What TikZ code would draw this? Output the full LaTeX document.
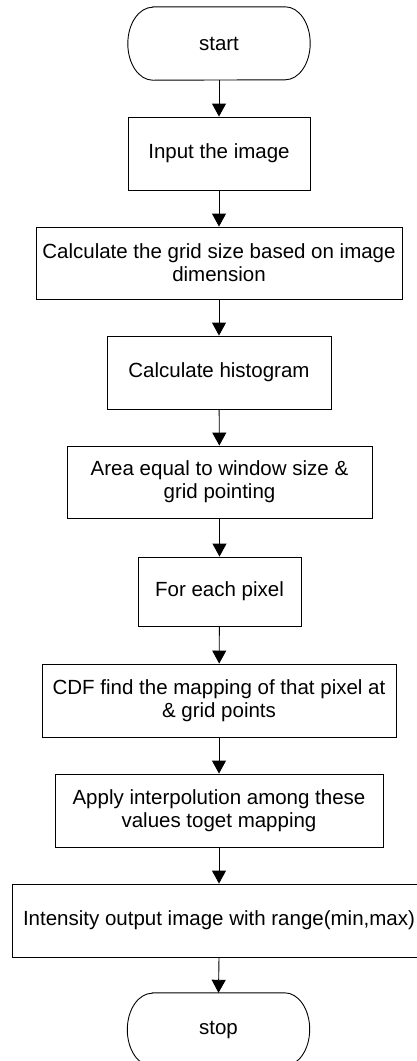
\documentclass[tikz,border=0pt]{standalone}
\usepackage{fontspec}
\setmainfont{Liberation Sans}
\usetikzlibrary{arrows.meta}
\begin{document}
\begin{tikzpicture}[x=1pt,y=1pt,
  box/.style={draw, line width=0.9pt, inner sep=0pt, align=center, font=\fontsize{20.5}{23}\selectfont},
  term/.style={inner sep=0pt, align=center, font=\fontsize{20.5}{23}\selectfont, minimum width=182pt, minimum height=73pt},
  arr/.style={line width=0.9pt, -{Triangle[length=13pt,width=14pt]}}]
\useasboundingbox (0,0) rectangle (417,-1061);
\node[term] (start) at (219,-43.5) {start};
\draw[line width=0.9pt] ([xshift=25pt]start.north west) -- ([xshift=-25pt]start.north east)
  arc[start angle=90,end angle=-90,x radius=25pt,y radius=36.5pt]
  -- ([xshift=25pt]start.south west)
  arc[start angle=270,end angle=90,x radius=25pt,y radius=36.5pt] -- cycle;
\node[box, minimum width=182pt, minimum height=73pt] (b1) at (219,-153.5) {Input the image};
\node[box, minimum width=366pt, minimum height=72pt] (b2) at (219,-263) {Calculate the grid size based on image\\dimension};
\node[box, minimum width=224pt, minimum height=73pt] (b3) at (219,-372.5) {Calculate histogram};
\node[box, minimum width=305pt, minimum height=72pt] (b4) at (219.5,-482) {Area equal to window size \&\\grid pointing};
\node[box, minimum width=163pt, minimum height=69pt] (b5) at (219.5,-591.5) {For each pixel};
\node[box, minimum width=354pt, minimum height=73pt] (b6) at (219,-700.5) {CDF find the mapping of that pixel at\\\& grid points};
\node[box, minimum width=328pt, minimum height=73pt] (b7) at (219,-810.5) {Apply interpolution among these\\values toget mapping};
\node[box, minimum width=414pt, minimum height=73pt] (b8) at (219,-920.5) {Intensity output image with range(min,max)};
\node[term] (stop) at (218.5,-1029.5) {stop};
\draw[line width=0.9pt] ([xshift=25pt]stop.north west) -- ([xshift=-25pt]stop.north east)
  arc[start angle=90,end angle=-90,x radius=25pt,y radius=36.5pt]
  -- ([xshift=25pt]stop.south west)
  arc[start angle=270,end angle=90,x radius=25pt,y radius=36.5pt] -- cycle;
\draw[arr] (start.south) -- (b1.north);
\draw[arr] (b1) -- (b2);
\draw[arr] (b2) -- (b3);
\draw[arr] (b3) -- (b4);
\draw[arr] (b4) -- (b5);
\draw[arr] (b5) -- (b6);
\draw[arr] (b6) -- (b7);
\draw[arr] (b7) -- (b8);
\draw[arr] (b8.south) -- (stop.north);
\end{tikzpicture}
\end{document}
